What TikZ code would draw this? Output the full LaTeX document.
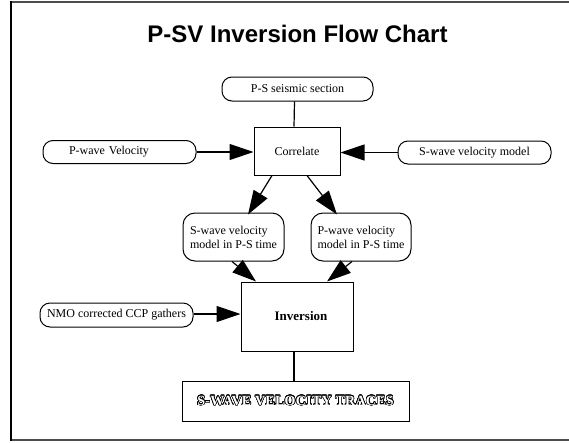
\documentclass[tikz,border=0pt]{standalone}
\usepackage{fontspec}
\setmainfont{Liberation Serif}
\newfontfamily\titlefont{Liberation Sans}
\newfontfamily\tracesfont[LetterSpace=2]{Liberation Serif}
\usepackage{contour}
\contourlength{0.55pt}
\contournumber{24}
\usetikzlibrary{arrows.meta,calc}

\tikzset{
  pill/.style={draw, line width=1pt, rounded corners=10pt, inner sep=0pt,
    font=\fontsize{12}{14}\selectfont},
  softbox/.style={draw, line width=1pt, rounded corners=12pt, inner sep=0pt,
    font=\fontsize{12}{14}\selectfont, align=left},
  plainbox/.style={draw, line width=1pt, inner sep=0pt,
    font=\fontsize{12}{14}\selectfont},
  link/.style={line width=1.2pt},
  flow/.style={line width=1.2pt, -{Triangle[length=24pt,width=16pt]}},
}

\begin{document}
\begin{tikzpicture}[x=1pt, y=-1pt]
\useasboundingbox (0,0) rectangle (569,442);

% page frame
\draw[black!70, line width=2pt] (11,2) -- (572,2);
\draw[black!70, line width=2pt] (11,440) -- (572,440);
\draw[black, line width=1.5pt] (11,1) -- (11,441);

% title
\node[anchor=base, font=\titlefont\bfseries\fontsize{24}{28}\selectfont]
  (title) at (297.5,42) {P-SV Inversion Flow Chart};

% inputs and steps
\node[pill, minimum width=151pt, minimum height=24pt] (ps) at (297.5,89)
  {P-S seismic section};
\node[plainbox, minimum width=86pt, minimum height=48pt] (corr) at (297,151)
  {Correlate};
\node[pill, minimum width=153pt, minimum height=23pt, inner xsep=26pt,
  text width=101pt, align=left] (pw) at (119.5,152) {P-wave Velocity};
\node[pill, minimum width=153pt, minimum height=23pt] (sw) at (474.5,152.5)
  {S-wave velocity model};
\node[softbox, minimum width=101pt, minimum height=48pt] (smid) at (233.5,237)
  {S-wave velocity\\model in P-S time};
\node[softbox, minimum width=100pt, minimum height=48pt] (pmid) at (361,237)
  {P-wave velocity\\model in P-S time};
\node[plainbox, minimum width=112pt, minimum height=69pt,
  font=\bfseries\fontsize{13}{15}\selectfont] (inv) at (297,316.5)
  {\hspace*{8pt}Inversion};
\node[pill, minimum width=153pt, minimum height=24pt] (nmo) at (116.5,315)
  {NMO corrected CCP gathers};
\node[plainbox, minimum width=227pt, minimum height=40pt,
  font=\tracesfont\bfseries\fontsize{14}{16}\selectfont] (traces) at (295.5,401)
  {\contour{black}{\textcolor{white}{S-WAVE VELOCITY TRACES}}};

% connectors
\draw[link] ([xshift=-3pt]ps.south) -- ([xshift=-3pt]corr.north);
\draw[flow] (pw.east) -- (pw.east -| corr.west);
\draw[flow] (sw.west) -- (sw.west -| corr.east);
\draw[flow] ([xshift=-25pt]corr.south) -- ([xshift=14.5pt,yshift=-2pt]smid.north);
\draw[flow] ([xshift=10pt]corr.south) -- ([xshift=-24pt,yshift=-2pt]pmid.north);
\draw[flow] ([xshift=-1.5pt]smid.south) -- ([xshift=-41pt]inv.north);
\draw[flow] ([xshift=-9pt]pmid.south) -- ([xshift=30pt]inv.north);
\draw[flow] ([yshift=1pt]nmo.east) -- ([yshift=1pt]nmo.east -| inv.west);
\draw[link] ([xshift=-3pt]inv.south) -- ([xshift=-3pt]inv.south |- traces.north);
\end{tikzpicture}
\end{document}
